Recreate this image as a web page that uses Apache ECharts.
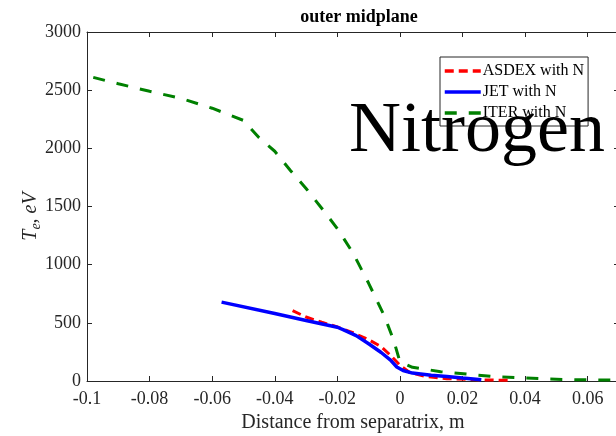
<!DOCTYPE html>
<html>
<head>
<meta charset="utf-8">
<script src="https://cdn.jsdelivr.net/npm/echarts@6/dist/echarts.min.js"></script>
<style>
  html, body { margin: 0; padding: 0; overflow: hidden; background: #fff; }
  #chart { width: 640px; height: 436px; }
</style>
</head>
<body>
<div id="chart"></div>
<script>
// Electron temperature profiles at the outer midplane
const seriesNames = ['ASDEX with N', 'JET with N', 'ITER with N'];

const asdexX = [-0.0343, -0.03, -0.025, -0.02, -0.015, -0.01, -0.006, -0.003, 0, 0.003, 0.008, 0.015, 0.025, 0.035];
const asdexY = [605, 550, 505, 465, 415, 355, 295, 220, 135, 75, 40, 20, 10, 6];

const jetX = [-0.057, -0.04, -0.03, -0.02, -0.018, -0.014, -0.01, -0.006, -0.003, -0.001, 0.001, 0.004, 0.01, 0.015, 0.02, 0.026];
const jetY = [678, 580, 520, 462, 440, 390, 320, 245, 180, 120, 90, 68, 50, 38, 25, 10];

const iterX = [-0.098, -0.09, -0.08, -0.07, -0.06, -0.05, -0.045, -0.04, -0.035, -0.03, -0.025, -0.02, -0.015, -0.01, -0.005, -0.002, 0, 0.004, 0.013, 0.022, 0.03, 0.039, 0.047, 0.056, 0.07];
const iterY = [2610, 2555, 2490, 2430, 2345, 2240, 2090, 1975, 1810, 1655, 1485, 1310, 1100, 840, 560, 350, 165, 118, 80, 58, 38, 27, 17, 11, 7];

const xTicks = { min: -0.1, max: 0.07, interval: 0.02 };
const yTicks = { min: 0, max: 3000, interval: 500 };

const pairs = (xs, ys) => xs.map((x, i) => [x, ys[i]]);

const FONT = '"Liberation Serif", "Times New Roman", serif';
const AXIS_COLOR = '#262626';

const chart = echarts.init(document.getElementById('chart'), null, { renderer: 'canvas' });

const baseAxis = {
  nameMoveOverlap: false,
  axisLine: { show: true, onZero: false, lineStyle: { color: AXIS_COLOR, width: 1 } },
  axisTick: { show: true, inside: true, length: 5, lineStyle: { color: AXIS_COLOR } },
  splitLine: { show: false }
};

const fmtX = v => {
  const r = Math.round(v * 100) / 100;
  return r === 0 ? '0' : String(r);
};
const fmtY = v => String(Math.round(v));

chart.setOption({
  animation: false,
  backgroundColor: '#fff',
  title: {
    text: 'outer midplane',
    left: 354,
    top: 3,
    textAlign: 'center',
    textStyle: { fontFamily: FONT, fontSize: 18, fontWeight: 'bold', color: '#000' }
  },
  grid: { left: 87, top: 32, width: 532, height: 349, containLabel: false, outerBoundsMode: 'none' },
  legend: {
    orient: 'vertical',
    left: 440,
    top: 57,
    width: 151,
    padding: [6, 4, 5, 3],
    itemWidth: 36,
    itemHeight: 14,
    itemGap: 5,
    backgroundColor: '#fff',
    borderColor: '#262626',
    borderWidth: 1,
    itemStyle: { opacity: 0, borderWidth: 0 },
    lineStyle: { width: 3.5 },
    textStyle: { fontFamily: FONT, fontSize: 16, color: '#000', padding: [0, 0, 0, -3] },
    data: seriesNames
  },
  xAxis: [
    Object.assign({}, baseAxis, {
      type: 'value', position: 'bottom',
      min: xTicks.min, max: xTicks.max, interval: xTicks.interval,
      name: 'Distance from separatrix, m',
      nameLocation: 'middle', nameGap: 32,
      nameTextStyle: { fontFamily: FONT, fontSize: 20, color: '#262626' },
      axisLabel: { fontFamily: FONT, fontSize: 18, color: '#262626', margin: 9, formatter: fmtX, showMaxLabel: false }
    }),
    Object.assign({}, baseAxis, {
      type: 'value', position: 'top',
      min: xTicks.min, max: xTicks.max, interval: xTicks.interval,
      axisLabel: { show: false }
    })
  ],
  yAxis: [
    Object.assign({}, baseAxis, {
      type: 'value', position: 'left',
      min: yTicks.min, max: yTicks.max, interval: yTicks.interval,
      name: '{i|T}{s|e}{i|, eV}',
      nameLocation: 'middle', nameGap: 44, nameRotate: 90,
      nameTextStyle: {
        fontFamily: FONT, color: '#262626',
        padding: [0, 20, 0, 0],
        rich: {
          i: { fontFamily: FONT, fontStyle: 'italic', fontSize: 20, color: '#262626', lineHeight: 24 },
          s: { fontFamily: FONT, fontStyle: 'italic', fontSize: 14, color: '#262626', lineHeight: 24, verticalAlign: 'bottom', padding: [8, 0, 0, 0] }
        }
      },
      axisLabel: { fontFamily: FONT, fontSize: 18, color: '#262626', margin: 6, formatter: fmtY }
    }),
    Object.assign({}, baseAxis, {
      type: 'value', position: 'right',
      min: yTicks.min, max: yTicks.max, interval: yTicks.interval,
      axisLabel: { show: false }
    })
  ],
  series: [
    {
      name: seriesNames[0], type: 'line', xAxisIndex: 0, yAxisIndex: 0,
      data: pairs(asdexX, asdexY), showSymbol: false, symbol: 'none', z: 3,
      lineStyle: { color: '#ff0000', width: 3, type: [9, 5] },
      itemStyle: { color: '#ff0000' }
    },
    {
      name: seriesNames[1], type: 'line', xAxisIndex: 0, yAxisIndex: 0,
      data: pairs(jetX, jetY), showSymbol: false, symbol: 'none', z: 4,
      lineStyle: { color: '#0000ff', width: 3.5, type: 'solid' },
      itemStyle: { color: '#0000ff' }
    },
    {
      name: seriesNames[2], type: 'line', xAxisIndex: 0, yAxisIndex: 0,
      data: pairs(iterX, iterY), showSymbol: false, symbol: 'none', z: 2,
      lineStyle: { color: '#008000', width: 3, type: [12, 12] },
      itemStyle: { color: '#008000' }
    }
  ],
  graphic: [
    {
      type: 'text', left: 349, top: 96, z: 100,
      style: { text: 'Nitrogen', fontFamily: FONT, fontSize: 72, fill: '#000' }
    }
  ]
});
</script>
</body>
</html>
